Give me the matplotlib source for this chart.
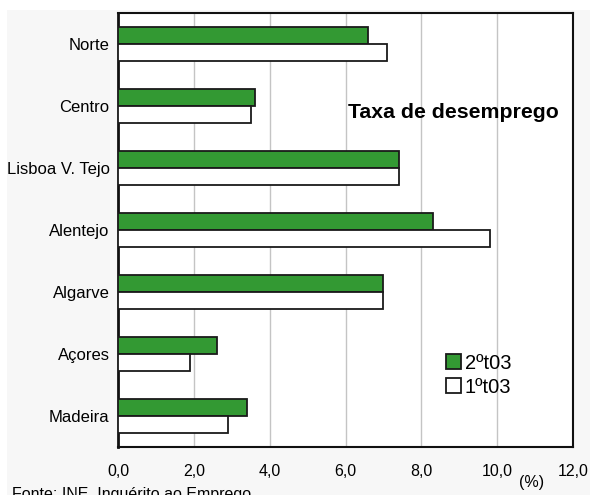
import numpy as np
import matplotlib.pyplot as plt
from matplotlib.patches import Rectangle

plt.rcParams['font.family'] = ['Liberation Sans', 'DejaVu Sans']

regioes = ['Norte', 'Centro', 'Lisboa V. Tejo', 'Alentejo', 'Algarve', 'Açores', 'Madeira']
t2_03 = [6.6, 3.6, 7.4, 8.3, 7.0, 2.6, 3.4]
t1_03 = [7.1, 3.5, 7.4, 9.8, 7.0, 1.9, 2.9]
xticks = [0, 2, 4, 6, 8, 10, 12]

fig = plt.figure(figsize=(5.92, 4.95), dpi=100)
fig.patch.set_facecolor('white')
# grey panel behind the chart
fig.patches.append(Rectangle((7 / 592, 0), 583 / 592, 1 - 10 / 495, transform=fig.transFigure,
                             facecolor='#f7f7f7', edgecolor='none', zorder=-5))

ax = fig.add_axes([118 / 592, 1 - 447 / 495, 455 / 592, 434 / 495])
ax.set_zorder(2)
ax.set_facecolor('white')

y = np.arange(len(regioes))
h = 0.27
ax.barh(y - h / 2, t2_03, height=h, color='#339933', edgecolor='#1a1a1a', linewidth=1.3,
        label='2ºt03', zorder=3)
ax.barh(y + h / 2, t1_03, height=h, color='white', edgecolor='#1a1a1a', linewidth=1.3,
        label='1ºt03', zorder=3)

ax.set_xlim(0, 12)
ax.set_ylim(len(regioes) - 0.5, -0.5)
ax.set_yticks(y)
ax.set_yticklabels(regioes, fontsize=12)
ax.set_xticks(xticks)
ax.set_xticklabels([f'{v:.1f}'.replace('.', ',') for v in xticks], fontsize=11.5)
ax.tick_params(axis='both', length=0)
ax.tick_params(axis='x', pad=12)
ax.tick_params(axis='y', pad=6)
ax.grid(axis='x', color='#c4c4c4', linewidth=1, zorder=0)
for s in ax.spines.values():
    s.set_linewidth(1.5)
    s.set_color('#111111')
ax.spines['left'].set_linewidth(2)

ax.text(0.736, 0.77, 'Taxa de desemprego', transform=ax.transAxes, fontsize=15.3,
        fontweight='bold', ha='center', va='center')

ax.legend(loc='upper left', bbox_to_anchor=(0.72, 0.215), frameon=False, fontsize=14.5,
          handlelength=0.75, handleheight=0.75, handletextpad=0.2, borderpad=0,
          borderaxespad=0, labelspacing=0.25)

fig.text(532 / 592, 1 - 483 / 495, '(%)', fontsize=11.5, ha='center', va='center')
fig.text(12 / 592, -4 / 495, 'Fonte: INE, Inquérito ao Emprego', fontsize=11.5,
         ha='left', va='baseline')

fig.savefig('out.png', dpi=100)
